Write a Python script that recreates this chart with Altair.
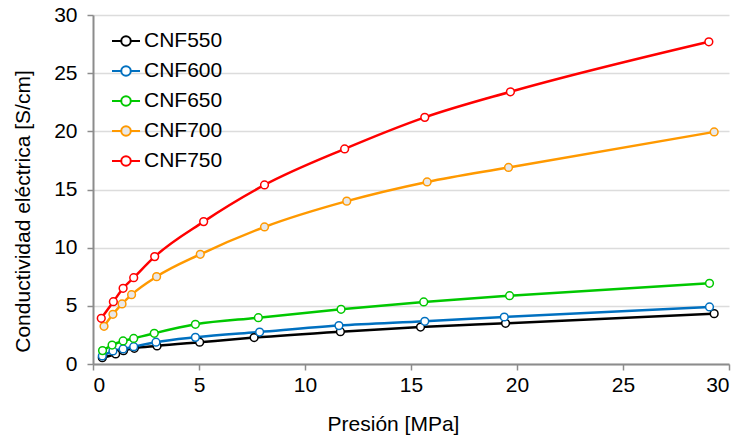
import altair as alt
import pandas as pd

series = ["CNF550", "CNF600", "CNF650", "CNF700", "CNF750"]
colors = ["#000000", "#0070C0", "#00C800", "#FF9900", "#FF0000"]
fills = ["#FFFFFF", "#FFFFFF", "#FFFFFF", "#E8E8E8", "#FFFFFF"]

p550 = [0.44, 1.07, 1.44, 1.95, 3.02, 5.03, 7.6, 11.67, 15.45, 19.46, 29.3]
c550 = [0.54, 0.86, 1.14, 1.35, 1.55, 1.87, 2.27, 2.78, 3.18, 3.5, 4.33]
p600 = [0.44, 0.94, 1.42, 1.92, 2.97, 4.83, 7.86, 11.6, 15.65, 19.4, 29.08]
c600 = [0.69, 1.12, 1.29, 1.49, 1.87, 2.29, 2.75, 3.3, 3.67, 4.04, 4.9]
p650 = [0.45, 0.9, 1.42, 1.92, 2.89, 4.83, 7.8, 11.7, 15.6, 19.65, 29.08]
c650 = [1.15, 1.63, 1.98, 2.2, 2.64, 3.41, 3.98, 4.7, 5.33, 5.87, 6.94]
p700 = [0.52, 0.94, 1.37, 1.82, 3.0, 5.06, 8.09, 11.97, 15.76, 19.6, 29.3]
c700 = [3.24, 4.27, 5.16, 5.96, 7.51, 9.43, 11.78, 14.0, 15.65, 16.9, 19.95]
p750 = [0.39, 0.96, 1.42, 1.92, 2.91, 5.22, 8.09, 11.87, 15.65, 19.69, 29.05]
c750 = [3.93, 5.36, 6.51, 7.42, 9.23, 12.24, 15.39, 18.49, 21.2, 23.4, 27.7]

x_ticks = [0, 5, 10, 15, 20, 25, 30]
y_ticks = [0, 5, 10, 15, 20, 25, 30]

rows = []
for name, ps, cs in zip(series, [p550, p600, p650, p700, p750],
                        [c550, c600, c650, c700, c750]):
    for i, (p, c) in enumerate(zip(ps, cs)):
        rows.append({"serie": name, "P": p, "C": c, "i": i})
df = pd.DataFrame(rows)

FONT = "Liberation Sans"

x = alt.X("P:Q", scale=alt.Scale(domain=[0, 30], nice=False),
          axis=alt.Axis(values=x_ticks, title="Presión [MPa]", grid=False,
                        labelPadding=4, titlePadding=18, titleX=300))
y = alt.Y("C:Q", scale=alt.Scale(domain=[0, 30], nice=False),
          axis=alt.Axis(values=y_ticks, title="Conductividad eléctrica [S/cm]",
                        grid=True, labelPadding=10, titlePadding=20,
                        titleY=196))

legend_path = ("M-1,0H-0.34 M0.34,0H1 "
               "M-0.34,0A0.34,0.34,0,1,0,0.34,0A0.34,0.34,0,1,0,-0.34,0Z")

color = alt.Color("serie:N",
                  scale=alt.Scale(domain=series, range=colors),
                  legend=alt.Legend(title=None, orient="none", legendX=18,
                                    legendY=11, symbolType=legend_path,
                                    symbolSize=784, symbolStrokeWidth=2,
                                    symbolFillColor="white",
                                    labelFontSize=21, labelFont=FONT,
                                    labelColor="black", rowPadding=5,
                                    labelOffset=3, padding=0))

lines = alt.Chart(df).mark_line(interpolate="monotone", strokeWidth=2.5).encode(
    x=x, y=y, color=color, order="i:Q")

points = alt.Chart(df).mark_point(shape="circle", filled=False, size=60,
                                  strokeWidth=1.5, opacity=1).encode(
    x=x, y=y,
    stroke=alt.Stroke("serie:N", scale=alt.Scale(domain=series, range=colors),
                      legend=None),
    fill=alt.Fill("serie:N", scale=alt.Scale(domain=series, range=fills),
                  legend=None))

chart = alt.layer(lines, points).properties(
    width=636, height=349,
    autosize=alt.AutoSizeParams(type="none"),
    padding={"left": 93, "top": 15, "right": 12, "bottom": 75},
).configure_view(stroke=None).configure_axis(
    labelFont=FONT, titleFont=FONT, labelFontSize=21, titleFontSize=21,
    titleFontWeight="normal", labelColor="black", titleColor="black",
    domainColor="#8c8c8c", tickColor="#8c8c8c", domainWidth=2, tickWidth=1.5,
    tickSize=6, gridColor="#dcdcdc", gridWidth=1.5,
).configure_legend(labelFont=FONT)

chart.save("out.html", embed_options={"renderer": "svg", "actions": False})
